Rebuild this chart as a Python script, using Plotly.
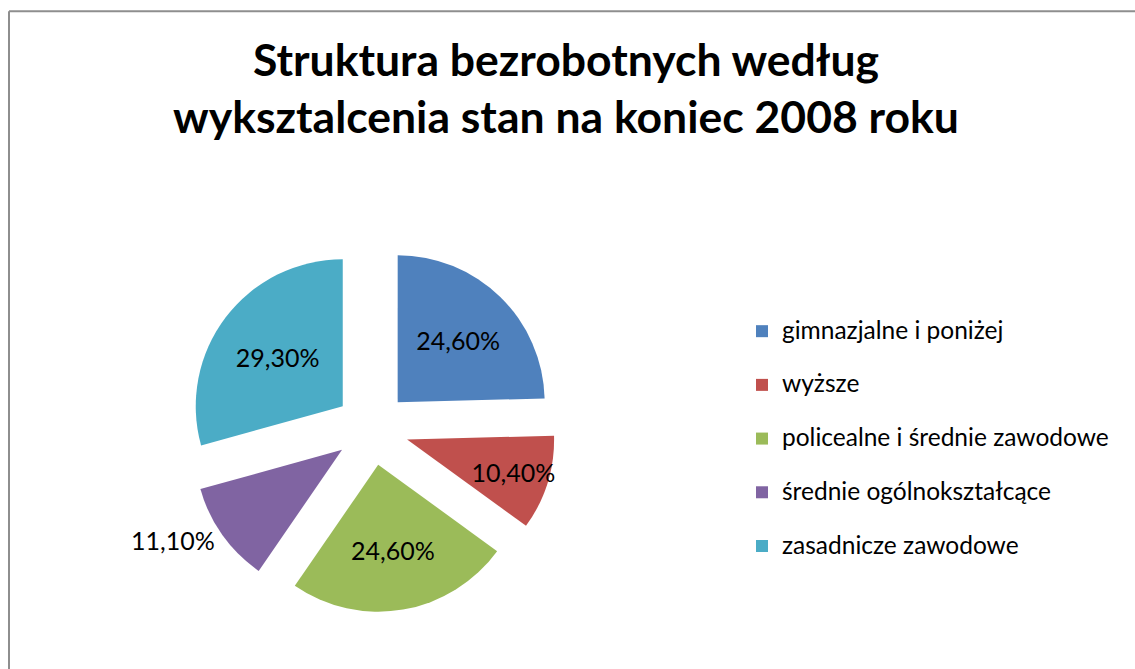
import plotly.graph_objects as go

# ---- data ----
categories = [
    "gimnazjalne i poniżej",
    "wyższe",
    "policealne i średnie zawodowe",
    "średnie ogólnokształcące",
    "zasadnicze zawodowe",
]
values = [24.6, 10.4, 24.6, 11.1, 29.3]
colors = ["#4F81BD", "#C0504D", "#9BBB59", "#8064A2", "#4BACC6"]
text_positions = ["inside", "inside", "inside", "outside", "inside"]
title_text = "Struktura bezrobotnych według<br>wyksztalcenia stan na koniec 2008 roku"

W, H = 1135, 669
FONT = "Lato, 'Open Sans', sans-serif"

# legend labels: larger visible text, plus an empty second line to reproduce the
# wide row spacing of the original legend
legend_labels = ["<span style='font-size:24.5px'>" + c + "</span><br> " for c in categories]

# pie domain (pixels) -> paper fractions
px_x0, px_x1 = 188.25, 555.75
px_y0, px_y1 = 244.75, 612.25

fig = go.Figure(
    go.Pie(
        labels=legend_labels,
        values=values,
        sort=False,
        direction="clockwise",
        rotation=0,
        pull=[0.25] * len(values),
        marker=dict(colors=colors, line=dict(width=0)),
        texttemplate="%{value:.2f}%",
        textposition=text_positions,
        insidetextorientation="horizontal",
        textfont=dict(family=FONT, size=25, color="#000000"),
        hovertemplate="%{value:.2f}%<extra></extra>",
        domain=dict(x=[px_x0 / W, px_x1 / W], y=[(H - px_y1) / H, (H - px_y0) / H]),
    )
)

fig.update_layout(
    width=W,
    height=H,
    separators=", ",
    paper_bgcolor="white",
    plot_bgcolor="white",
    margin=dict(l=0, r=0, t=0, b=0, autoexpand=False),
    uniformtext=dict(minsize=25, mode="show"),
    title=dict(
        text=title_text,
        x=566 / W,
        xanchor="center",
        y=1 - 75.5 / H,
        yanchor="middle",
        font=dict(family=FONT, size=44.5, color="#000000", weight="bold"),
    ),
    showlegend=True,
    legend=dict(
        x=742 / W,
        xanchor="left",
        y=1 - 312 / H,
        yanchor="top",
        valign="top",
        font=dict(family=FONT, size=19.5, color="#000000"),
        bgcolor="rgba(0,0,0,0)",
        tracegroupgap=0,
    ),
    shapes=[
        dict(type="line", xref="paper", yref="paper",
             x0=9 / W, x1=1.0, y0=1 - 11.3 / H, y1=1 - 11.3 / H,
             line=dict(color="#8E8E8E", width=2)),
        dict(type="line", xref="paper", yref="paper",
             x0=9 / W, x1=9 / W, y0=0.0, y1=1 - 11.3 / H,
             line=dict(color="#8E8E8E", width=2)),
    ],
)

fig.write_html(
    "out.html",
    config={"displayModeBar": False},
    post_script="document.body.style.margin='0';",
)
